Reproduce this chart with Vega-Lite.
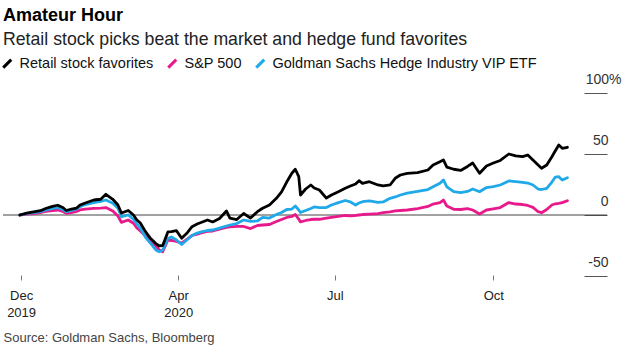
{
  "$schema": "https://vega.github.io/schema/vega-lite/v6.json",
  "width": 604,
  "height": 183,
  "autosize": "none",
  "padding": {"left": 3, "top": 93, "right": 20, "bottom": 78},
  "background": "white",
  "config": {"font": "Liberation Sans", "view": {"stroke": null}},
  "title": {
    "text": "Amateur Hour",
    "subtitle": "Retail stock picks beat the market and hedge fund favorites",
    "anchor": "start",
    "frame": "group",
    "fontSize": 18,
    "fontWeight": "bold",
    "color": "#000000",
    "subtitleFontSize": 17.7,
    "subtitleColor": "#222222",
    "subtitlePadding": 6,
    "offset": 7
  },
  "layer": [
    {
      "data": {"values": [{}]},
      "mark": {"type": "rule", "color": "#444444", "strokeWidth": 1},
      "encoding": {"y": {"datum": 0, "type": "quantitative"}}
    },
    {
      "data": {
        "values": [
          {"date": "2019-12-31", "Retail stock favorites": 0, "S&P 500": 0, "Goldman Sachs Hedge Industry VIP ETF": 0},
          {"date": "2020-01-04", "Retail stock favorites": 1.6, "S&P 500": 0.8, "Goldman Sachs Hedge Industry VIP ETF": 1.2},
          {"date": "2020-01-08", "Retail stock favorites": 2.5, "S&P 500": 1.2, "Goldman Sachs Hedge Industry VIP ETF": 2.0},
          {"date": "2020-01-12", "Retail stock favorites": 3.5, "S&P 500": 1.9, "Goldman Sachs Hedge Industry VIP ETF": 2.7},
          {"date": "2020-01-15", "Retail stock favorites": 5.3, "S&P 500": 2.9, "Goldman Sachs Hedge Industry VIP ETF": 4.1},
          {"date": "2020-01-19", "Retail stock favorites": 7.0, "S&P 500": 3.5, "Goldman Sachs Hedge Industry VIP ETF": 5.5},
          {"date": "2020-01-22", "Retail stock favorites": 8.0, "S&P 500": 4.1, "Goldman Sachs Hedge Industry VIP ETF": 6.1},
          {"date": "2020-01-25", "Retail stock favorites": 6.1, "S&P 500": 2.9, "Goldman Sachs Hedge Industry VIP ETF": 4.5},
          {"date": "2020-01-27", "Retail stock favorites": 3.7, "S&P 500": 1.4, "Goldman Sachs Hedge Industry VIP ETF": 2.7},
          {"date": "2020-01-30", "Retail stock favorites": 4.9, "S&P 500": 2.0, "Goldman Sachs Hedge Industry VIP ETF": 3.7},
          {"date": "2020-02-02", "Retail stock favorites": 5.7, "S&P 500": 2.9, "Goldman Sachs Hedge Industry VIP ETF": 4.9},
          {"date": "2020-02-04", "Retail stock favorites": 8.2, "S&P 500": 4.1, "Goldman Sachs Hedge Industry VIP ETF": 6.8},
          {"date": "2020-02-07", "Retail stock favorites": 9.8, "S&P 500": 4.9, "Goldman Sachs Hedge Industry VIP ETF": 8.6},
          {"date": "2020-02-12", "Retail stock favorites": 12.3, "S&P 500": 5.5, "Goldman Sachs Hedge Industry VIP ETF": 10.1},
          {"date": "2020-02-16", "Retail stock favorites": 12.9, "S&P 500": 5.7, "Goldman Sachs Hedge Industry VIP ETF": 11.1},
          {"date": "2020-02-19", "Retail stock favorites": 17.0, "S&P 500": 6.1, "Goldman Sachs Hedge Industry VIP ETF": 12.3},
          {"date": "2020-02-23", "Retail stock favorites": 12.9, "S&P 500": 3.3, "Goldman Sachs Hedge Industry VIP ETF": 9.6},
          {"date": "2020-02-26", "Retail stock favorites": 8.2, "S&P 500": -0.8, "Goldman Sachs Hedge Industry VIP ETF": 5.5},
          {"date": "2020-02-28", "Retail stock favorites": 1.6, "S&P 500": -6.1, "Goldman Sachs Hedge Industry VIP ETF": -1.4},
          {"date": "2020-03-03", "Retail stock favorites": 3.7, "S&P 500": -4.1, "Goldman Sachs Hedge Industry VIP ETF": 0},
          {"date": "2020-03-06", "Retail stock favorites": 0, "S&P 500": -6.8, "Goldman Sachs Hedge Industry VIP ETF": -3.5},
          {"date": "2020-03-08", "Retail stock favorites": -4.1, "S&P 500": -10.7, "Goldman Sachs Hedge Industry VIP ETF": -7.4},
          {"date": "2020-03-10", "Retail stock favorites": -6.6, "S&P 500": -13.1, "Goldman Sachs Hedge Industry VIP ETF": -10.7},
          {"date": "2020-03-13", "Retail stock favorites": -13.7, "S&P 500": -17.2, "Goldman Sachs Hedge Industry VIP ETF": -18.4},
          {"date": "2020-03-16", "Retail stock favorites": -19.3, "S&P 500": -20.9, "Goldman Sachs Hedge Industry VIP ETF": -23.2},
          {"date": "2020-03-19", "Retail stock favorites": -23.4, "S&P 500": -25.4, "Goldman Sachs Hedge Industry VIP ETF": -28.7},
          {"date": "2020-03-21", "Retail stock favorites": -25.4, "S&P 500": -28.7, "Goldman Sachs Hedge Industry VIP ETF": -30.1},
          {"date": "2020-03-23", "Retail stock favorites": -25.0, "S&P 500": -30.1, "Goldman Sachs Hedge Industry VIP ETF": -28.7},
          {"date": "2020-03-26", "Retail stock favorites": -13.9, "S&P 500": -20.5, "Goldman Sachs Hedge Industry VIP ETF": -19.3},
          {"date": "2020-03-28", "Retail stock favorites": -13.7, "S&P 500": -20.9, "Goldman Sachs Hedge Industry VIP ETF": -18.0},
          {"date": "2020-03-31", "Retail stock favorites": -12.9, "S&P 500": -21.7, "Goldman Sachs Hedge Industry VIP ETF": -20.5},
          {"date": "2020-04-03", "Retail stock favorites": -19.1, "S&P 500": -23.0, "Goldman Sachs Hedge Industry VIP ETF": -24.2},
          {"date": "2020-04-06", "Retail stock favorites": -15.0, "S&P 500": -19.9, "Goldman Sachs Hedge Industry VIP ETF": -20.5},
          {"date": "2020-04-09", "Retail stock favorites": -9.6, "S&P 500": -16.8, "Goldman Sachs Hedge Industry VIP ETF": -16.8},
          {"date": "2020-04-12", "Retail stock favorites": -7.4, "S&P 500": -15.6, "Goldman Sachs Hedge Industry VIP ETF": -14.8},
          {"date": "2020-04-15", "Retail stock favorites": -5.7, "S&P 500": -14.5, "Goldman Sachs Hedge Industry VIP ETF": -13.7},
          {"date": "2020-04-18", "Retail stock favorites": -4.1, "S&P 500": -13.5, "Goldman Sachs Hedge Industry VIP ETF": -12.7},
          {"date": "2020-04-21", "Retail stock favorites": -5.7, "S&P 500": -13.1, "Goldman Sachs Hedge Industry VIP ETF": -12.3},
          {"date": "2020-04-25", "Retail stock favorites": -2.9, "S&P 500": -11.5, "Goldman Sachs Hedge Industry VIP ETF": -10.7},
          {"date": "2020-04-29", "Retail stock favorites": 3.3, "S&P 500": -10.2, "Goldman Sachs Hedge Industry VIP ETF": -9.0},
          {"date": "2020-05-01", "Retail stock favorites": -2.5, "S&P 500": -9.8, "Goldman Sachs Hedge Industry VIP ETF": -8.2},
          {"date": "2020-05-05", "Retail stock favorites": -3.7, "S&P 500": -9.4, "Goldman Sachs Hedge Industry VIP ETF": -7.0},
          {"date": "2020-05-09", "Retail stock favorites": 1.2, "S&P 500": -9.4, "Goldman Sachs Hedge Industry VIP ETF": -4.1},
          {"date": "2020-05-13", "Retail stock favorites": -2.5, "S&P 500": -11.1, "Goldman Sachs Hedge Industry VIP ETF": -5.3},
          {"date": "2020-05-17", "Retail stock favorites": 2.7, "S&P 500": -8.6, "Goldman Sachs Hedge Industry VIP ETF": -4.9},
          {"date": "2020-05-20", "Retail stock favorites": 5.5, "S&P 500": -8.2, "Goldman Sachs Hedge Industry VIP ETF": -2.0},
          {"date": "2020-05-24", "Retail stock favorites": 8.2, "S&P 500": -7.8, "Goldman Sachs Hedge Industry VIP ETF": -2.5},
          {"date": "2020-05-28", "Retail stock favorites": 13.7, "S&P 500": -5.3, "Goldman Sachs Hedge Industry VIP ETF": 0.4},
          {"date": "2020-05-31", "Retail stock favorites": 18.9, "S&P 500": -3.7, "Goldman Sachs Hedge Industry VIP ETF": 2.0},
          {"date": "2020-06-03", "Retail stock favorites": 27.0, "S&P 500": -2.0, "Goldman Sachs Hedge Industry VIP ETF": 4.5},
          {"date": "2020-06-06", "Retail stock favorites": 34.2, "S&P 500": -1.2, "Goldman Sachs Hedge Industry VIP ETF": 4.9},
          {"date": "2020-06-08", "Retail stock favorites": 37.5, "S&P 500": 0.4, "Goldman Sachs Hedge Industry VIP ETF": 7.4},
          {"date": "2020-06-10", "Retail stock favorites": 31.4, "S&P 500": -3.3, "Goldman Sachs Hedge Industry VIP ETF": 4.1},
          {"date": "2020-06-11", "Retail stock favorites": 16.4, "S&P 500": -5.7, "Goldman Sachs Hedge Industry VIP ETF": 2.0},
          {"date": "2020-06-14", "Retail stock favorites": 21.3, "S&P 500": -4.5, "Goldman Sachs Hedge Industry VIP ETF": 3.7},
          {"date": "2020-06-17", "Retail stock favorites": 24.6, "S&P 500": -3.7, "Goldman Sachs Hedge Industry VIP ETF": 5.3},
          {"date": "2020-06-19", "Retail stock favorites": 22.1, "S&P 500": -3.5, "Goldman Sachs Hedge Industry VIP ETF": 6.6},
          {"date": "2020-06-22", "Retail stock favorites": 20.5, "S&P 500": -3.5, "Goldman Sachs Hedge Industry VIP ETF": 6.1},
          {"date": "2020-06-26", "Retail stock favorites": 13.9, "S&P 500": -2.5, "Goldman Sachs Hedge Industry VIP ETF": 6.1},
          {"date": "2020-06-29", "Retail stock favorites": 16.4, "S&P 500": -1.9, "Goldman Sachs Hedge Industry VIP ETF": 8.2},
          {"date": "2020-07-03", "Retail stock favorites": 19.1, "S&P 500": -1.2, "Goldman Sachs Hedge Industry VIP ETF": 10.2},
          {"date": "2020-07-07", "Retail stock favorites": 21.9, "S&P 500": -0.4, "Goldman Sachs Hedge Industry VIP ETF": 11.9},
          {"date": "2020-07-10", "Retail stock favorites": 23.8, "S&P 500": -0.8, "Goldman Sachs Hedge Industry VIP ETF": 10.7},
          {"date": "2020-07-13", "Retail stock favorites": 25.4, "S&P 500": -0.4, "Goldman Sachs Hedge Industry VIP ETF": 8.2},
          {"date": "2020-07-15", "Retail stock favorites": 28.1, "S&P 500": 0, "Goldman Sachs Hedge Industry VIP ETF": 9.8},
          {"date": "2020-07-17", "Retail stock favorites": 25.9, "S&P 500": 0.4, "Goldman Sachs Hedge Industry VIP ETF": 10.9},
          {"date": "2020-07-21", "Retail stock favorites": 27.3, "S&P 500": 0.8, "Goldman Sachs Hedge Industry VIP ETF": 11.5},
          {"date": "2020-07-26", "Retail stock favorites": 24.6, "S&P 500": 1.2, "Goldman Sachs Hedge Industry VIP ETF": 10.4},
          {"date": "2020-07-29", "Retail stock favorites": 23.8, "S&P 500": 1.9, "Goldman Sachs Hedge Industry VIP ETF": 10.7},
          {"date": "2020-08-02", "Retail stock favorites": 24.6, "S&P 500": 2.5, "Goldman Sachs Hedge Industry VIP ETF": 13.7},
          {"date": "2020-08-05", "Retail stock favorites": 30.1, "S&P 500": 3.3, "Goldman Sachs Hedge Industry VIP ETF": 14.8},
          {"date": "2020-08-08", "Retail stock favorites": 32.8, "S&P 500": 3.7, "Goldman Sachs Hedge Industry VIP ETF": 16.4},
          {"date": "2020-08-12", "Retail stock favorites": 34.2, "S&P 500": 4.1, "Goldman Sachs Hedge Industry VIP ETF": 18.0},
          {"date": "2020-08-18", "Retail stock favorites": 34.7, "S&P 500": 5.3, "Goldman Sachs Hedge Industry VIP ETF": 19.3},
          {"date": "2020-08-24", "Retail stock favorites": 36.9, "S&P 500": 7.0, "Goldman Sachs Hedge Industry VIP ETF": 20.9},
          {"date": "2020-08-27", "Retail stock favorites": 41.0, "S&P 500": 9.0, "Goldman Sachs Hedge Industry VIP ETF": 23.2},
          {"date": "2020-08-31", "Retail stock favorites": 43.7, "S&P 500": 10.1, "Goldman Sachs Hedge Industry VIP ETF": 26.0},
          {"date": "2020-09-02", "Retail stock favorites": 45.1, "S&P 500": 12.3, "Goldman Sachs Hedge Industry VIP ETF": 28.7},
          {"date": "2020-09-04", "Retail stock favorites": 39.3, "S&P 500": 7.4, "Goldman Sachs Hedge Industry VIP ETF": 23.0},
          {"date": "2020-09-08", "Retail stock favorites": 37.5, "S&P 500": 4.7, "Goldman Sachs Hedge Industry VIP ETF": 19.1},
          {"date": "2020-09-12", "Retail stock favorites": 36.5, "S&P 500": 4.5, "Goldman Sachs Hedge Industry VIP ETF": 18.4},
          {"date": "2020-09-16", "Retail stock favorites": 39.8, "S&P 500": 5.3, "Goldman Sachs Hedge Industry VIP ETF": 19.3},
          {"date": "2020-09-19", "Retail stock favorites": 42.6, "S&P 500": 4.1, "Goldman Sachs Hedge Industry VIP ETF": 21.3},
          {"date": "2020-09-23", "Retail stock favorites": 34.2, "S&P 500": 0.8, "Goldman Sachs Hedge Industry VIP ETF": 19.1},
          {"date": "2020-09-27", "Retail stock favorites": 40.2, "S&P 500": 4.1, "Goldman Sachs Hedge Industry VIP ETF": 22.5},
          {"date": "2020-10-01", "Retail stock favorites": 42.6, "S&P 500": 5.1, "Goldman Sachs Hedge Industry VIP ETF": 23.2},
          {"date": "2020-10-05", "Retail stock favorites": 44.7, "S&P 500": 6.1, "Goldman Sachs Hedge Industry VIP ETF": 24.6},
          {"date": "2020-10-10", "Retail stock favorites": 50.0, "S&P 500": 10.2, "Goldman Sachs Hedge Industry VIP ETF": 27.9},
          {"date": "2020-10-14", "Retail stock favorites": 48.4, "S&P 500": 9.0, "Goldman Sachs Hedge Industry VIP ETF": 27.3},
          {"date": "2020-10-18", "Retail stock favorites": 47.8, "S&P 500": 8.6, "Goldman Sachs Hedge Industry VIP ETF": 26.8},
          {"date": "2020-10-21", "Retail stock favorites": 49.2, "S&P 500": 7.8, "Goldman Sachs Hedge Industry VIP ETF": 26.2},
          {"date": "2020-10-24", "Retail stock favorites": 45.1, "S&P 500": 6.3, "Goldman Sachs Hedge Industry VIP ETF": 24.6},
          {"date": "2020-10-27", "Retail stock favorites": 41.0, "S&P 500": 2.7, "Goldman Sachs Hedge Industry VIP ETF": 21.3},
          {"date": "2020-10-29", "Retail stock favorites": 38.3, "S&P 500": 1.9, "Goldman Sachs Hedge Industry VIP ETF": 20.9},
          {"date": "2020-11-01", "Retail stock favorites": 41.0, "S&P 500": 4.5, "Goldman Sachs Hedge Industry VIP ETF": 21.9},
          {"date": "2020-11-04", "Retail stock favorites": 47.8, "S&P 500": 8.2, "Goldman Sachs Hedge Industry VIP ETF": 27.0},
          {"date": "2020-11-06", "Retail stock favorites": 52.7, "S&P 500": 9.2, "Goldman Sachs Hedge Industry VIP ETF": 31.1},
          {"date": "2020-11-08", "Retail stock favorites": 57.4, "S&P 500": 9.6, "Goldman Sachs Hedge Industry VIP ETF": 31.4},
          {"date": "2020-11-10", "Retail stock favorites": 54.7, "S&P 500": 10.1, "Goldman Sachs Hedge Industry VIP ETF": 28.7},
          {"date": "2020-11-13", "Retail stock favorites": 55.5, "S&P 500": 11.7, "Goldman Sachs Hedge Industry VIP ETF": 30.6}
        ]
      },
      "transform": [
        {"fold": ["S&P 500", "Goldman Sachs Hedge Industry VIP ETF", "Retail stock favorites"], "as": ["series", "value"]}
      ],
      "mark": {"type": "line", "strokeWidth": 2.8, "strokeJoin": "round", "strokeCap": "round"},
      "encoding": {
        "x": {
          "field": "date",
          "type": "temporal",
          "scale": {
            "type": "utc",
            "domain": [
              {"year": 2019, "month": 12, "date": 21, "hours": 6, "utc": true},
              {"year": 2020, "month": 12, "date": 6, "utc": true}
            ]
          },
          "axis": {
            "values": [
              {"year": 2019, "month": 12, "date": 31, "hours": 18, "utc": true},
              {"year": 2020, "month": 4, "date": 1, "utc": true},
              {"year": 2020, "month": 7, "date": 1, "utc": true},
              {"year": 2020, "month": 10, "date": 1, "utc": true}
            ],
            "labelExpr": "(utcmonth(datum.value) == 11 || utcmonth(datum.value) == 3) ? [utcFormat(datum.value, '%b'), utcFormat(datum.value, '%Y')] : utcFormat(datum.value, '%b')",
            "domain": false,
            "grid": false,
            "offset": -1,
            "tickSize": 5,
            "tickColor": "#777777",
            "labelFontSize": 13,
            "labelColor": "#222222",
            "labelPadding": 9,
            "labelLineHeight": 17,
            "labelBaseline": "top",
            "labelAlign": "center",
            "labelFlush": false,
            "labelOverlap": false,
            "title": "Source: Goldman Sachs, Bloomberg",
            "titleX": 0,
            "titleY": 66,
            "titleAlign": "left",
            "titleAnchor": "start",
            "titleBaseline": "alphabetic",
            "titleFontSize": 13,
            "titleFontWeight": "normal",
            "titleColor": "#444444"
          }
        },
        "y": {
          "field": "value",
          "type": "quantitative",
          "scale": {"domain": [-50, 100], "nice": false, "zero": false},
          "axis": {
            "orient": "right",
            "values": [-50, 0, 50, 100],
            "labelExpr": "datum.value == 100 ? '100%' : '' + datum.value",
            "grid": false,
            "domain": false,
            "tickSize": -23,
            "tickColor": "#555555",
            "labelAlign": "right",
            "labelBaseline": "alphabetic",
            "labelOffset": -10,
            "labelPadding": {"condition": {"test": "datum.value == 100", "value": 37}, "value": 24},
            "labelFontSize": 14,
            "labelColor": "#333333",
            "title": null
          }
        },
        "color": {
          "field": "series",
          "type": "nominal",
          "scale": {
            "domain": ["Retail stock favorites", "S&P 500", "Goldman Sachs Hedge Industry VIP ETF"],
            "range": ["#000000", "#e8198b", "#1fa9e9"]
          },
          "legend": {
            "orient": "none",
            "legendX": -3,
            "legendY": -37,
            "direction": "horizontal",
            "columns": 3,
            "title": null,
            "symbolType": "M-1,1L1,-1",
            "symbolSize": 64,
            "symbolStrokeWidth": 3,
            "labelFontSize": 14.5,
            "labelColor": "#111111",
            "labelOffset": 5,
            "columnPadding": 8,
            "labelLimit": 400
          }
        }
      }
    }
  ]
}
